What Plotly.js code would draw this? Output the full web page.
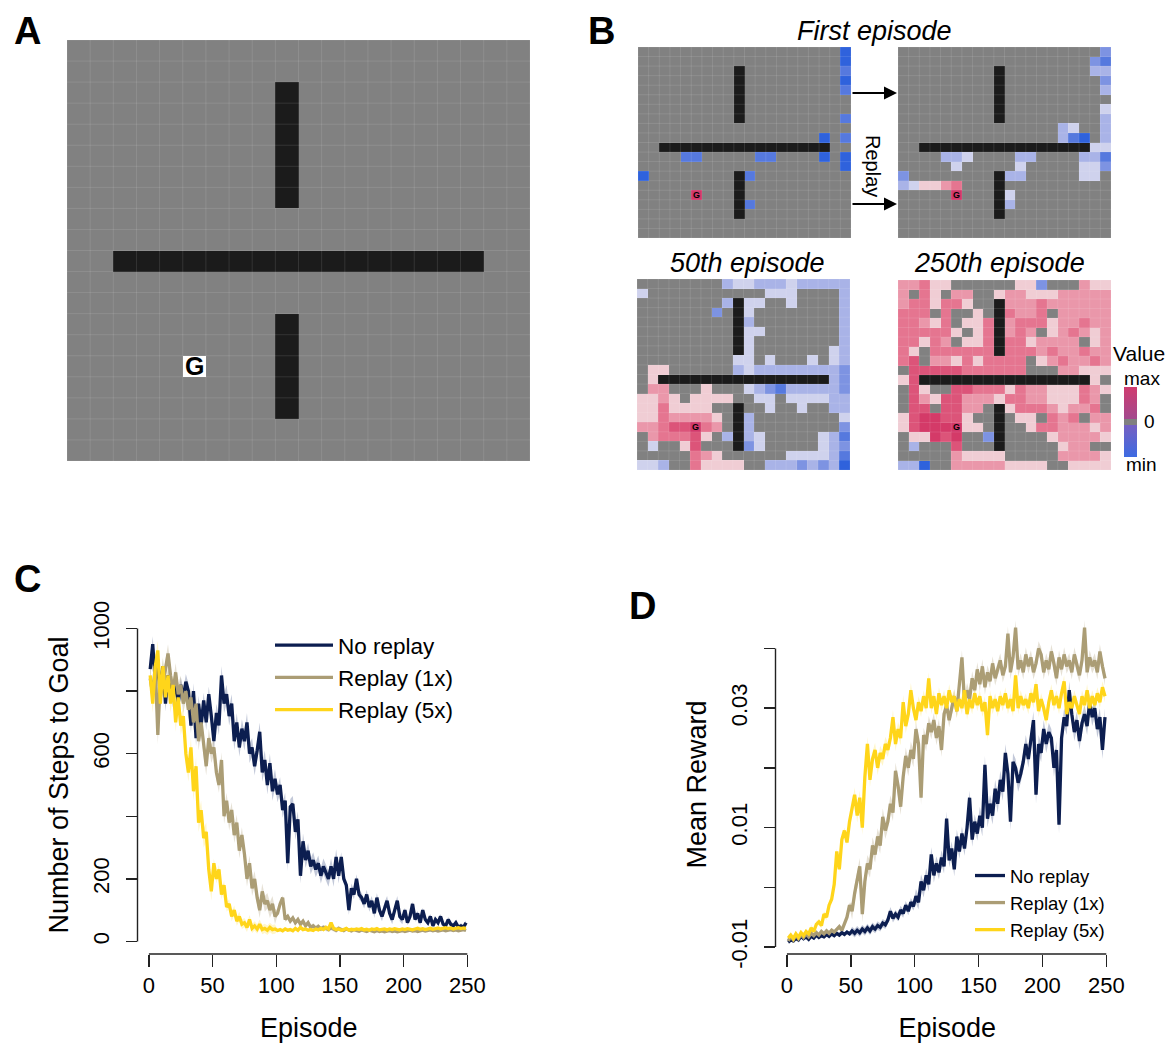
<!DOCTYPE html>
<html><head><meta charset="utf-8">
<script src="https://cdn.plot.ly/plotly-3.0.1.min.js"></script>
<style>html,body{margin:0;padding:0;background:#fff}#chart{width:1171px;height:1052px}</style>
</head><body><div id="chart"></div>
<script>
// ---------------- DATA ----------------
// Maze: '#' wall, 'G' goal, '.' free
const MAZE = [
"....................",
"....................",
".........#..........",
".........#..........",
".........#..........",
".........#..........",
".........#..........",
".........#..........",
"....................",
"....................",
"..################..",
"....................",
"....................",
".........#..........",
".........#..........",
".....G...#..........",
".........#..........",
".........#..........",
"....................",
"...................."
];
// value level codes: '.'=0 (unvisited), a..e negative (faint..min), 1..5 positive (faint..max)
const LEVEL = {'.':0,'#':0,'G':0,'a':-0.2,'b':-0.4,'c':-0.6,'d':-0.8,'e':-1,'1':0.2,'2':0.4,'3':0.6,'4':0.8,'5':1};
const GRID_FIRST = [
"...................e","...................e","...................d","...................e","...................d",
"....................","....................","...................d","....................",".................e.d",
"....................","....dd.....dd....e.e","...................e","e.........d.........","....................",
"....................","..........d.........","....................","....................","...................."
];
const GRID_REPLAY = [
"...................c","..................cd","..................bb","...................c","...................b",
"....................","...................a","...................b","...............ba..b","...............bde.b",
"..................aa","....bba....bb....bbd",".....a.....a.....aac","c.........bb.....aa.","ba1123..............",
"..........a.........","..........b.........","....................","....................","...................."
];
const GRID_50 = [
"........baabbbabbbbb","a...........aaa....b","........b.aa..a....b",".......c..a........b","..........b........b",
"..........aa.......b","..........a........b","..........a.......ab",".........aa.a...a.ab",".11......babbbbbbbbc",
".1................bc",".22...1...abcdbbbbbc","1121.1111..aa.aaaabb","1131111.....a..a..bb","11322221..b........a",
"22344532..b........c",".233341.b.ba.....abd",".a..14....ca.....abc",".....321......aaaabd","aab..31111..bbbcbcbe"
];
const GRID_250 = [
"22311......11c...211","2.31.22..12211122222","2331331..#2223222222","333.3..1.#3223.22222","33213.113#2333122322",
"333331.13#232.123212","33132.113#3312222.12","31.333333#3332322322","34.221313333.1232232",".44444333333...22111",
"14################1.",".41..443331322111321",".421442221332211132.",".44.4422.#133321223.","1455441..#.11.323.22",
"14555511.#..13322212",".11545..c#....122221",".b...4...#.....122..",".....21111.....22221","bbe..222221111..1111"
];

// Episodes 1,3,5,...,249
const C_NO_REPLAY = [
870,950,830,900,780,880,760,850,820,770,
840,760,820,780,830,800,690,800,650,760,
690,770,700,790,720,640,730,690,850,760,
790,720,760,640,700,620,680,640,700,600,
620,560,610,670,540,580,500,570,480,520,
470,500,420,450,250,430,440,350,390,210,
320,260,290,240,260,230,250,210,240,220,
200,240,200,270,210,270,200,180,100,170,
150,200,150,140,120,150,110,130,90,140,
100,80,110,130,90,70,100,130,80,70,
100,60,80,120,70,90,60,100,70,60,
80,50,70,60,80,55,50,70,55,50,
60,45,50,45,60];
const C_REPLAY_1X = [
840,790,880,660,850,820,870,920,850,800,
860,790,820,760,800,740,780,700,760,640,
700,620,560,650,600,620,540,500,580,400,
450,380,420,340,380,290,340,280,200,250,
170,200,140,100,160,120,130,100,120,80,
90,120,140,70,80,65,75,60,70,55,
65,50,60,45,50,42,48,40,45,42,
38,44,40,36,42,38,35,40,36,34,
38,35,33,37,34,32,36,33,31,35,
32,34,31,33,35,32,34,31,33,35,
32,34,36,33,35,32,34,36,33,35,
37,34,36,33,35,37,34,36,38,35,
37,34,36,38,35];
const C_REPLAY_5X = [
850,760,880,930,760,880,780,850,760,820,
700,780,690,720,600,540,620,480,560,380,
420,330,350,230,160,250,200,230,150,180,
110,120,80,100,65,80,55,60,45,70,
42,50,40,55,38,42,36,45,38,40,
35,38,34,40,36,38,34,42,36,45,
38,40,36,38,35,40,37,42,38,45,
40,60,42,38,40,36,38,42,36,39,
37,40,38,41,37,39,36,40,38,41,
37,39,40,37,40,38,41,39,37,40,
38,41,39,37,40,42,39,41,38,40,
42,39,41,43,40,42,44,41,43,40,
42,44,41,43,42];
const D_NO_REPLAY = [
-0.0092,-0.0088,-0.0090,-0.0085,-0.0088,-0.0082,-0.0086,-0.0083,-0.0087,-0.0082,
-0.0085,-0.0080,-0.0084,-0.0081,-0.0083,-0.0079,-0.0082,-0.0078,-0.0081,-0.0077,
-0.0080,-0.0076,-0.0079,-0.0075,-0.0078,-0.0073,-0.0077,-0.0072,-0.0076,-0.0070,
-0.0074,-0.0068,-0.0073,-0.0066,-0.0070,-0.0064,-0.0067,-0.0060,-0.0063,-0.0055,
-0.0040,-0.0052,-0.0045,-0.0050,-0.0038,-0.0044,-0.0030,-0.0040,-0.0025,-0.0032,
-0.0015,-0.0025,0.0010,-0.0005,0.0020,0.0005,0.0055,0.0020,0.0040,0.0025,
0.0050,0.0035,0.0115,0.0045,0.0065,0.0030,0.0085,0.0060,0.0090,0.0065,
0.0100,0.0150,0.0080,0.0110,0.0090,0.0120,0.0100,0.0205,0.0115,0.0140,
0.0120,0.0165,0.0140,0.0180,0.0160,0.0225,0.0190,0.0110,0.0210,0.0200,
0.0175,0.0190,0.0210,0.0240,0.0215,0.0250,0.0280,0.0155,0.0240,0.0225,
0.0265,0.0240,0.0260,0.0250,0.0200,0.0230,0.0105,0.0250,0.0285,0.0270,
0.0330,0.0290,0.0260,0.0280,0.0245,0.0275,0.0290,0.0270,0.0310,0.0285,
0.0300,0.0265,0.0285,0.0230,0.0285];
const D_REPLAY_1X = [
-0.0090,-0.0082,-0.0088,-0.0080,-0.0086,-0.0079,-0.0084,-0.0078,-0.0083,-0.0077,
-0.0081,-0.0076,-0.0080,-0.0074,-0.0078,-0.0073,-0.0077,-0.0072,-0.0075,-0.0070,
-0.0066,-0.0072,-0.0060,-0.0050,-0.0030,-0.0040,-0.0010,0.0012,0.0035,-0.0045,
0.0010,0.0040,0.0030,0.0070,0.0055,0.0085,0.0070,0.0118,0.0095,0.0110,
0.0140,0.0125,0.0195,0.0170,0.0135,0.0185,0.0220,0.0200,0.0230,0.0215,
0.0265,0.0240,0.0150,0.0255,0.0240,0.0275,0.0260,0.0280,0.0250,0.0270,
0.0230,0.0290,0.0305,0.0280,0.0300,0.0320,0.0295,0.0340,0.0385,0.0310,
0.0330,0.0315,0.0350,0.0330,0.0365,0.0340,0.0370,0.0335,0.0360,0.0345,
0.0375,0.0350,0.0365,0.0380,0.0355,0.0370,0.0425,0.0360,0.0385,0.0435,
0.0365,0.0380,0.0360,0.0390,0.0370,0.0385,0.0360,0.0375,0.0400,0.0390,
0.0360,0.0380,0.0365,0.0395,0.0375,0.0350,0.0385,0.0365,0.0390,0.0370,
0.0380,0.0360,0.0390,0.0370,0.0355,0.0380,0.0435,0.0360,0.0385,0.0370,
0.0380,0.0360,0.0395,0.0370,0.0350];
const D_REPLAY_5X = [
-0.0085,-0.0080,-0.0086,-0.0078,-0.0084,-0.0076,-0.0081,-0.0074,-0.0078,-0.0068,
-0.0074,-0.0062,-0.0058,-0.0064,-0.0045,-0.0050,-0.0030,-0.0020,0.0005,0.0060,
0.0030,0.0080,0.0095,0.0075,0.0110,0.0130,0.0155,0.0120,0.0150,0.0100,
0.0185,0.0240,0.0180,0.0215,0.0230,0.0200,0.0225,0.0215,0.0240,0.0230,
0.0250,0.0285,0.0240,0.0265,0.0250,0.0310,0.0270,0.0290,0.0330,0.0300,
0.0280,0.0310,0.0295,0.0320,0.0300,0.0350,0.0300,0.0320,0.0290,0.0325,
0.0305,0.0320,0.0300,0.0330,0.0310,0.0320,0.0295,0.0315,0.0300,0.0330,
0.0290,0.0315,0.0300,0.0325,0.0305,0.0320,0.0295,0.0310,0.0255,0.0320,
0.0300,0.0315,0.0295,0.0320,0.0305,0.0325,0.0300,0.0315,0.0295,0.0355,
0.0300,0.0320,0.0305,0.0315,0.0300,0.0325,0.0310,0.0340,0.0295,0.0315,
0.0300,0.0280,0.0310,0.0330,0.0305,0.0320,0.0300,0.0325,0.0345,0.0290,
0.0310,0.0300,0.0320,0.0305,0.0290,0.0320,0.0305,0.0330,0.0300,0.0320,
0.0305,0.0325,0.0310,0.0335,0.0320];
// standard-error half widths per 50-episode block
const C_SE_NO = [25,30,25,15,8], C_SE_1X = [30,25,8,3,3], C_SE_5X = [30,15,3,3,3];
const D_SE_NO = [0.0003,0.0007,0.0012,0.0015,0.0015], D_SE_1X = [0.0004,0.0014,0.0012,0.0012,0.0012], D_SE_5X = [0.0005,0.0012,0.0010,0.0010,0.0010];

const SERIES_NAMES = ['No replay','Replay (1x)','Replay (5x)'];
const X_TICKS = [0,50,100,150,200,250];
const C_YTICKS = [0,200,400,600,800,1000];
const C_YLABELS = ['0','200','','600','','1000'];
const D_YTICKS = [-0.01,0,0.01,0.02,0.03,0.04];
const D_YLABELS = ['-0.01','','0.01','','0.03',''];

// ---------------- BUILD ----------------
const W = 1171, H = 1052;
const px = x => x / W, py = y => 1 - y / H;
const FONT = 'Liberation Sans, Arial, Helvetica, sans-serif';
const COLORS = ['#0c1e50', '#ab9d75', '#ffd51a'];
const BANDS = ['rgba(40,60,120,0.28)', 'rgba(171,157,117,0.30)', 'rgba(255,225,80,0.30)'];
const EP = Array.from({length: C_NO_REPLAY.length}, (_, i) => 1 + 2 * i);

const VALUE_SCALE = [[0,'#2f62dc'],[0.1,'#5679de'],[0.2,'#7d93e2'],[0.3,'#a9b3e7'],[0.4,'#cfd2ed'],[0.45,'#cfd2ed'],
  [0.5,'#818181'],[0.55,'#f0cdd4'],[0.6,'#f0cdd4'],[0.7,'#ea97aa'],[0.8,'#e57590'],[0.9,'#dc5479'],[1,'#d43a68']];
const CB_SCALE = [[0,'#3d6be2'],[0.46,'#7660c2'],[0.46,'#808080'],[0.54,'#808080'],[0.54,'#a24a8e'],[1,'#d03c70']];

const N = MAZE.length;
const valueZ = rows => rows.map((r, i) => r.split('').map((ch, j) => MAZE[i][j] === '#' ? null : (LEVEL[ch] || 0)));
const maskZ = ch => MAZE.map(r => r.split('').map(c => c === ch ? 1 : null));
let goalRow = 0, goalCol = 0;
MAZE.forEach((r, i) => { const j = r.indexOf('G'); if (j >= 0) { goalRow = i; goalCol = j; } });

let gridPath = '';
for (let k = 0; k <= N; k++) {
  gridPath += `M${k-0.5},-0.5L${k-0.5},${N-0.5}M-0.5,${k-0.5}L${N-0.5},${k-0.5}`;
}

const HEAT_PANELS = [
  {id:'',  box:[67,40,530,461],   grid:MAZE,        goal:'#ffffff', gsize:25},
  {id:'2', box:[638,47,851,238],  grid:GRID_FIRST,  goal:'#d2386a', gsize:9},
  {id:'3', box:[898,47,1111,238], grid:GRID_REPLAY, goal:'#d2386a', gsize:9},
  {id:'4', box:[637,279,850,470], grid:GRID_50,     goal:'#d2386a', gsize:9},
  {id:'5', box:[898,280,1111,470],grid:GRID_250,    goal:'#d2386a', gsize:9}
];

const traces = [], shapes = [], annotations = [];
const layout = {
  width: W, height: H, margin: {l:0, r:0, t:0, b:0}, autosize: false,
  paper_bgcolor: '#ffffff', plot_bgcolor: 'rgba(0,0,0,0)',
  font: {family: FONT, color: '#000'}, showlegend: true
};

HEAT_PANELS.forEach(p => {
  const xa = 'x' + p.id, ya = 'y' + p.id;
  layout['xaxis' + p.id] = {domain:[px(p.box[0]), px(p.box[2])], range:[-0.5, N-0.5], visible:false, anchor: ya, fixedrange:true};
  layout['yaxis' + p.id] = {domain:[py(p.box[3]), py(p.box[1])], range:[N-0.5, -0.5], visible:false, anchor: xa, fixedrange:true};
  traces.push({type:'heatmap', z: valueZ(p.grid), zmin:-1, zmax:1, colorscale: VALUE_SCALE, showscale:false, xaxis:xa, yaxis:ya, hoverinfo:'skip'});
  traces.push({type:'heatmap', z: maskZ('#'), zmin:0, zmax:1, colorscale:[[0,'#1b1b1b'],[1,'#1b1b1b']], showscale:false, xaxis:xa, yaxis:ya, hoverinfo:'skip'});
  traces.push({type:'heatmap', z: maskZ('G'), zmin:0, zmax:1, colorscale:[[0,p.goal],[1,p.goal]], showscale:false, xaxis:xa, yaxis:ya, hoverinfo:'skip'});
  shapes.push({type:'path', path: gridPath, xref: xa, yref: ya, line:{color:'rgba(255,255,255,0.11)', width:1}, layer:'above'});
  annotations.push({text:'<b>G</b>', x: goalCol, y: goalRow, xref: xa, yref: ya, showarrow:false, font:{size:p.gsize, color:'#000', family:FONT}});
});

// colorbar carrier
traces.push({type:'scatter', mode:'markers', x:[null], y:[null], xaxis:'x5', yaxis:'y5', showlegend:false, hoverinfo:'skip',
  marker:{color:[0], cmin:-1, cmax:1, colorscale: CB_SCALE, showscale:true, size:0.1,
    colorbar:{x: px(1124), xanchor:'left', xref:'paper', y: py(421.7), yanchor:'middle', yref:'paper', len:70, lenmode:'pixels',
      thickness:13, thicknessmode:'pixels', outlinewidth:0, showticklabels:false, ticks:'', xpad:0, ypad:0}}});

// line panels
function lineAxes(n, box, yr, yt, yl, ytitle) {
  layout['xaxis' + n] = {domain:[px(box[0]), px(box[2])], range:[-8.96, 259.96], anchor:'y' + n,
    tickmode:'array', tickvals: X_TICKS, ticks:'outside', ticklen:12, tickwidth:1.4, tickcolor:'#222',
    showline:false, showgrid:false, zeroline:false, tickfont:{size:22, color:'#000', family:FONT},
    title:{text:'Episode', font:{size:27, color:'#000', family:FONT}, standoff:20}, fixedrange:true};
  layout['yaxis' + n] = {domain:[py(box[3]), py(box[1])], range: yr, anchor:'x' + n,
    tickmode:'array', tickvals: yt, ticktext: yl, tickangle:-90, ticks:'outside', ticklen:11, tickwidth:1.4, tickcolor:'#222',
    ticklabelstandoff: 8,
    showline:false, showgrid:false, zeroline:false, tickfont:{size:22, color:'#000', family:FONT},
    title:{text: ytitle, font:{size:27, color:'#000', family:FONT}, standoff:12}, fixedrange:true};
  shapes.push({type:'line', xref:'x' + n, yref:'paper', x0: X_TICKS[0], x1: X_TICKS[X_TICKS.length-1], y0: py(box[3]), y1: py(box[3]), line:{color:'#222', width:1.4}});
  shapes.push({type:'line', xref:'paper', yref:'y' + n, x0: px(box[0]), x1: px(box[0]), y0: yt[0], y1: yt[yt.length-1], line:{color:'#222', width:1.4}});
}
lineAxes(6, [137.5, 616, 480, 954], [-40, 1040], C_YTICKS, C_YLABELS, 'Number of Steps to Goal');
lineAxes(7, [775.5, 615, 1119, 954], [-0.01117, 0.0456], D_YTICKS, D_YLABELS, 'Mean Reward');

function band(ys, se, k, xa, ya) {
  const blk = i => se[Math.min(se.length - 1, Math.floor((EP[i] - 1) / 50))];
  const up = ys.map((v, i) => v + blk(i)), lo = ys.map((v, i) => v - blk(i));
  return {type:'scatter', mode:'lines', x: EP.concat(EP.slice().reverse()), y: up.concat(lo.slice().reverse()),
    fill:'toself', fillcolor: BANDS[k], line:{width:0, color: BANDS[k]}, hoverinfo:'skip', showlegend:false, xaxis:xa, yaxis:ya};
}
const C_SERIES = [C_NO_REPLAY, C_REPLAY_1X, C_REPLAY_5X], C_SE = [C_SE_NO, C_SE_1X, C_SE_5X];
const D_SERIES = [D_NO_REPLAY, D_REPLAY_1X, D_REPLAY_5X], D_SE = [D_SE_NO, D_SE_1X, D_SE_5X];
[0,1,2].forEach(k => traces.push(band(C_SERIES[k], C_SE[k], k, 'x6', 'y6')));
[0,1,2].forEach(k => traces.push({type:'scatter', mode:'lines', name: SERIES_NAMES[k], x: EP, y: C_SERIES[k],
  line:{color: COLORS[k], width:3.3}, xaxis:'x6', yaxis:'y6', legend:'legend'}));
[0,1,2].forEach(k => traces.push(band(D_SERIES[k], D_SE[k], k, 'x7', 'y7')));
[0,1,2].forEach(k => traces.push({type:'scatter', mode:'lines', name: SERIES_NAMES[k], x: EP, y: D_SERIES[k],
  line:{color: COLORS[k], width:3.3}, xaxis:'x7', yaxis:'y7', legend:'legend2'}));

layout.legend = {x: px(270), y: py(624), xanchor:'left', yanchor:'top', bgcolor:'rgba(0,0,0,0)', borderwidth:0,
  font:{size:22.5, color:'#000', family:FONT}, tracegroupgap:0, itemwidth:58};
layout.legend2 = {x: px(970), y: py(857), xanchor:'left', yanchor:'top', bgcolor:'rgba(0,0,0,0)', borderwidth:0,
  font:{size:18.5, color:'#000', family:FONT}, tracegroupgap:0};

// text annotations
const txt = (t, x, y, size, extra) => Object.assign({text: t, x: px(x), y: py(y), xref:'paper', yref:'paper', showarrow:false,
  xanchor:'center', yanchor:'middle', font:{size: size, color:'#000', family: FONT}}, extra || {});
annotations.push(txt('<b>A</b>', 28, 31, 38));
annotations.push(txt('<b>B</b>', 601, 31, 38));
annotations.push(txt('<b>C</b>', 27, 579, 38));
annotations.push(txt('<b>D</b>', 642, 606, 38));
annotations.push(txt('<i>First episode</i>', 874, 31, 27));
annotations.push(txt('<i>50th episode</i>', 747, 263, 27));
annotations.push(txt('<i>250th episode</i>', 1000, 263, 27));
annotations.push(txt('Replay', 873, 166, 20, {textangle: 90}));
annotations.push(txt('Value', 1139, 353, 21));
annotations.push(txt('max', 1142, 379, 19));
annotations.push(txt('0', 1149, 421, 19));
annotations.push(txt('min', 1141, 464, 19));
[93, 204].forEach(yy => annotations.push({text:'', x: px(897), y: py(yy), ax: px(851), ay: py(yy), xref:'paper', yref:'paper',
  axref:'paper', ayref:'paper', showarrow:true, arrowhead:2, arrowsize:1.3, arrowwidth:2, arrowcolor:'#000'}));

layout.shapes = shapes;
layout.annotations = annotations;

Plotly.newPlot('chart', traces, layout, {displayModeBar:false, staticPlot:true});
</script>
</body></html>
